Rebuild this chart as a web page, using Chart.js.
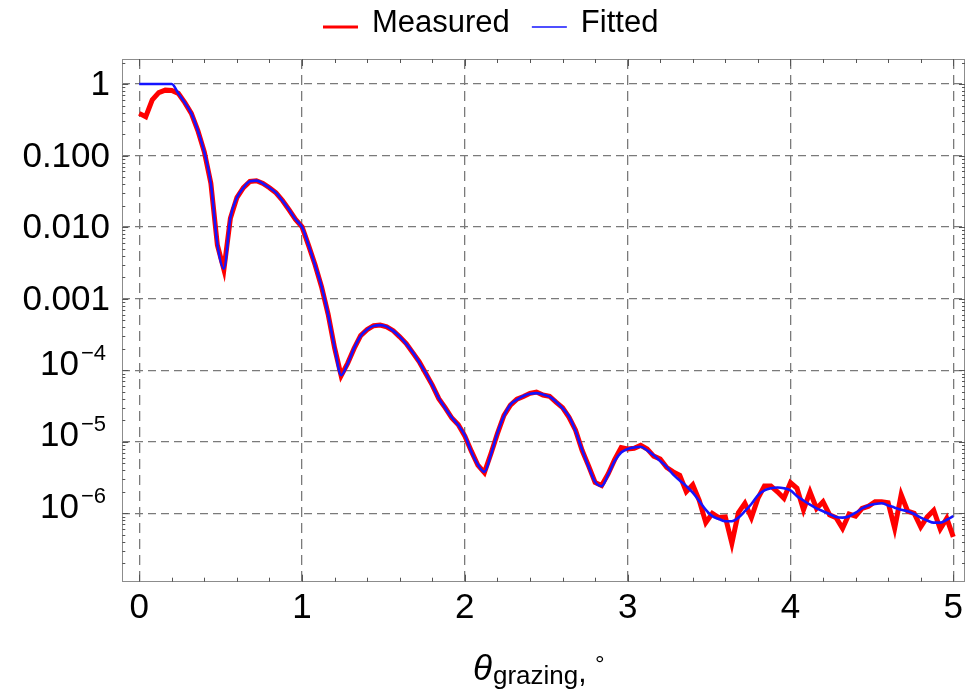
<!DOCTYPE html>
<html>
<head>
<meta charset="utf-8">
<title>Reflectivity</title>
<script src="https://cdn.jsdelivr.net/npm/chart.js@4.4.0/dist/chart.umd.min.js"></script>
<style>
  html, body { margin: 0; padding: 0; background: #fff; }
</style>
</head>
<body>
<canvas id="grafico" width="974" height="689"></canvas>
<script>
const FONT = '"Liberation Sans", Arial, sans-serif';
Chart.defaults.font.family = FONT;

// grazing angle, degrees
const theta = [
  0, 0.04, 0.08, 0.12, 0.16, 0.2, 0.24, 0.28, 0.32, 0.36,
  0.4, 0.44, 0.48, 0.52, 0.56, 0.6, 0.64, 0.68, 0.72, 0.76,
  0.8, 0.84, 0.88, 0.92, 0.96, 1, 1.04, 1.08, 1.12, 1.16,
  1.2, 1.24, 1.28, 1.32, 1.36, 1.4, 1.44, 1.48, 1.52, 1.56,
  1.6, 1.64, 1.68, 1.72, 1.76, 1.8, 1.84, 1.88, 1.92, 1.96,
  2, 2.04, 2.08, 2.12, 2.16, 2.2, 2.24, 2.28, 2.32, 2.36,
  2.4, 2.44, 2.48, 2.52, 2.56, 2.6, 2.64, 2.68, 2.72, 2.76,
  2.8, 2.84, 2.88, 2.92, 2.96, 3, 3.04, 3.08, 3.12, 3.16,
  3.2, 3.24, 3.28, 3.32, 3.36, 3.4, 3.44, 3.48, 3.52, 3.56,
  3.6, 3.64, 3.68, 3.72, 3.76, 3.8, 3.84, 3.88, 3.92, 3.96,
  4, 4.04, 4.08, 4.12, 4.16, 4.2, 4.24, 4.28, 4.32, 4.36,
  4.4, 4.44, 4.48, 4.52, 4.56, 4.6, 4.64, 4.68, 4.72, 4.76,
  4.8, 4.84, 4.88, 4.92, 4.96, 5
];

const measured = [
  0.389, 0.349, 0.603, 0.759, 0.822, 0.813, 0.741, 0.550, 0.389, 0.224,
  0.112, 0.0410, 5.6e-3, 2.55e-3, 0.0133, 0.0259, 0.0356, 0.0436, 0.0446, 0.0409,
  0.0356, 0.0301, 0.0236, 0.0175, 0.0128, 0.0101, 5.55e-3, 2.98e-3, 1.46e-3, 6.1e-4,
  2.05e-4, 8.4e-5, 1.25e-4, 2.02e-4, 3.05e-4, 3.70e-4, 4.20e-4, 4.29e-4, 4.05e-4, 3.57e-4,
  2.93e-4, 2.36e-4, 1.76e-4, 1.31e-4, 9.0e-5, 6.2e-5, 4.0e-5, 2.98e-5, 2.15e-5, 1.73e-5,
  1.20e-5, 7.4e-6, 4.7e-6, 3.7e-6, 6.8e-6, 1.30e-5, 2.33e-5, 3.25e-5, 3.95e-5, 4.30e-5,
  4.75e-5, 4.95e-5, 4.50e-5, 4.33e-5, 3.58e-5, 3.0e-5, 2.20e-5, 1.45e-5, 7.6e-6, 4.6e-6,
  2.7e-6, 2.45e-6, 3.55e-6, 5.62e-6, 8.32e-6, 7.94e-6, 8.13e-6, 8.91e-6, 7.94e-6, 6.31e-6,
  5.75e-6, 4.37e-6, 3.80e-6, 3.39e-6, 2.0e-6, 2.5e-6, 1.51e-6, 7.41e-7, 1.00e-6, 8.71e-7,
  8.91e-7, 3.80e-7, 1.02e-6, 1.38e-6, 8.71e-7, 1.62e-6, 2.40e-6, 2.40e-6, 2.00e-6, 1.62e-6,
  2.69e-6, 2.24e-6, 1.12e-6, 2.00e-6, 1.17e-6, 1.45e-6, 9.55e-7, 8.71e-7, 6.17e-7, 9.77e-7,
  9.12e-7, 1.17e-6, 1.26e-6, 1.45e-6, 1.45e-6, 1.41e-6, 6.17e-7, 1.82e-6, 1.07e-6, 1.00e-6,
  6.46e-7, 8.91e-7, 1.10e-6, 6.03e-7, 8.51e-7, 4.68e-7
];

const fitted = [
  1, 1, 1, 1, 1, 1, 0.741, 0.550, 0.389, 0.224,
  0.111, 0.0407, 5.75e-3, 2.63e-3, 0.0135, 0.0257, 0.0355, 0.0437, 0.0447, 0.0407,
  0.0355, 0.0302, 0.0234, 0.0176, 0.0129, 0.0100, 5.62e-3, 2.95e-3, 1.48e-3, 6.03e-4,
  2.09e-4, 8.51e-5, 1.23e-4, 2.04e-4, 3.02e-4, 3.72e-4, 4.17e-4, 4.27e-4, 4.07e-4, 3.55e-4,
  2.95e-4, 2.34e-4, 1.78e-4, 1.29e-4, 9.12e-5, 6.17e-5, 4.07e-5, 2.95e-5, 2.19e-5, 1.70e-5,
  1.23e-5, 7.24e-6, 4.79e-6, 3.80e-6, 6.61e-6, 1.32e-5, 2.29e-5, 3.31e-5, 3.89e-5, 4.37e-5,
  4.68e-5, 4.79e-5, 4.57e-5, 4.27e-5, 3.63e-5, 2.95e-5, 2.24e-5, 1.41e-5, 7.76e-6, 4.47e-6,
  2.75e-6, 2.40e-6, 3.47e-6, 5.37e-6, 7.08e-6, 7.94e-6, 8.32e-6, 8.51e-6, 7.59e-6, 6.46e-6,
  5.37e-6, 4.47e-6, 3.47e-6, 2.88e-6, 2.40e-6, 1.95e-6, 1.48e-6, 1.12e-6, 9.12e-7, 8.32e-7,
  7.76e-7, 7.76e-7, 8.71e-7, 1.07e-6, 1.35e-6, 1.78e-6, 2.09e-6, 2.24e-6, 2.29e-6, 2.24e-6,
  2.09e-6, 1.74e-6, 1.51e-6, 1.32e-6, 1.17e-6, 1.07e-6, 9.77e-7, 8.91e-7, 8.71e-7, 9.12e-7,
  1.02e-6, 1.17e-6, 1.29e-6, 1.35e-6, 1.38e-6, 1.29e-6, 1.20e-6, 1.12e-6, 1.07e-6, 9.77e-7,
  8.71e-7, 7.94e-7, 7.41e-7, 7.41e-7, 8.13e-7, 9.12e-7
];

const xTickValues = [0, 1, 2, 3, 4, 5];
const yTickValues = [1, 0.1, 0.01, 0.001, 1e-4, 1e-5, 1e-6];
const yTickText = ['1', '0.100', '0.010', '0.001', '10', '10', '10'];
const yTickExp = ['', '', '', '', '\u22124', '\u22125', '\u22126'];

// frame, inward ticks, y labels with exponents, axis title and legend
const marco = {
  id: 'marco',
  afterDraw(chart) {
    const { ctx, chartArea: a, scales: { x, y } } = chart;
    ctx.save();

    ctx.strokeStyle = '#8c8c8c';
    ctx.lineWidth = 1;
    ctx.strokeRect(Math.round(a.left) + 0.5, Math.round(a.top) + 0.5,
      Math.round(a.right - a.left) - 1, Math.round(a.bottom - a.top) - 1);

    ctx.strokeStyle = '#555';
    ctx.beginPath();
    for (let i = 0; i <= 25; i++) {
      const px = Math.round(x.getPixelForValue(i / 5)) + 0.5;
      const len = i % 5 === 0 ? 7 : 4;
      ctx.moveTo(px, a.bottom); ctx.lineTo(px, a.bottom - len);
      ctx.moveTo(px, a.top); ctx.lineTo(px, a.top + len);
    }
    for (let e = -7; e <= 0; e++) {
      for (let m = 1; m <= 9; m++) {
        const v = m * Math.pow(10, e);
        if (v < y.min || v > y.max) continue;
        const py = Math.round(y.getPixelForValue(v)) + 0.5;
        const len = m === 1 ? 6 : 3;
        ctx.moveTo(a.left, py); ctx.lineTo(a.left + len, py);
        ctx.moveTo(a.right, py); ctx.lineTo(a.right - len, py);
      }
    }
    ctx.stroke();

    ctx.fillStyle = '#000';
    ctx.textBaseline = 'alphabetic';
    yTickValues.forEach((v, i) => {
      const py = y.getPixelForValue(v);
      ctx.font = `35px ${FONT}`;
      ctx.textAlign = 'right';
      if (yTickExp[i]) {
        ctx.fillText(yTickText[i], 79, py + 4.5);
        ctx.font = `22px ${FONT}`;
        ctx.textAlign = 'left';
        ctx.fillText(yTickExp[i], 81, py - 10.5);
      } else {
        ctx.fillText(yTickText[i], 110, py + 11);
      }
    });

    // θ_grazing,°
    ctx.textAlign = 'left';
    let tx = 473;
    ctx.font = `italic 35px ${FONT}`;
    ctx.fillText('\u03b8', tx, 680);
    tx += ctx.measureText('\u03b8').width + 1;
    ctx.font = `26px ${FONT}`;
    ctx.fillText('grazing', tx, 684);
    tx += ctx.measureText('grazing').width;
    ctx.font = `30px ${FONT}`;
    ctx.fillText(',', tx, 682);
    tx += ctx.measureText(', ').width;
    ctx.font = `24px ${FONT}`;
    ctx.fillText('\u00b0', tx, 672);

    // legend
    let lx = 323;
    ctx.font = `31px ${FONT}`;
    chart.data.datasets.forEach(ds => {
      ctx.strokeStyle = ds.borderColor;
      ctx.lineWidth = ds.legendWidth;
      ctx.beginPath();
      ctx.moveTo(lx, 27); ctx.lineTo(lx + 35, 27);
      ctx.stroke();
      lx += 35 + 14;
      ctx.fillText(ds.label, lx, 32);
      lx += ctx.measureText(ds.label).width + 22;
    });

    ctx.restore();
  }
};

new Chart(document.getElementById('grafico'), {
  type: 'line',
  data: {
    datasets: [
      {
        label: 'Measured',
        data: theta.map((t, i) => ({ x: t, y: measured[i] })),
        borderColor: '#ff0000',
        borderWidth: 5,
        legendWidth: 3,
        pointRadius: 0,
        tension: 0,
        order: 2
      },
      {
        label: 'Fitted',
        data: theta.map((t, i) => ({ x: t, y: fitted[i] })),
        borderColor: '#1414ff',
        borderWidth: 2.6,
        legendWidth: 1.5,
        pointRadius: 0,
        cubicInterpolationMode: 'monotone',
        order: 1
      }
    ]
  },
  options: {
    responsive: false,
    animation: false,
    devicePixelRatio: 1,
    layout: { padding: { top: 59, right: 9, left: 0, bottom: 0 } },
    plugins: { legend: { display: false }, tooltip: { enabled: false } },
    scales: {
      x: {
        type: 'linear',
        min: -0.104,
        max: 5.072,
        afterBuildTicks: s => { s.ticks = xTickValues.map(v => ({ value: v })); },
        afterFit: s => { s.height = 107.3; },
        grid: { color: '#7a7a7a', lineWidth: 1.3, drawTicks: false },
        border: { display: false, dash: [10, 6] },
        ticks: {
          color: '#000',
          font: { size: 35 },
          padding: 6,
          maxRotation: 0,
          autoSkip: false,
          callback: v => String(v)
        }
      },
      y: {
        type: 'logarithmic',
        min: 1.107e-7,
        max: 2.24,
        afterBuildTicks: s => { s.ticks = yTickValues.map(v => ({ value: v })); },
        afterFit: s => { s.width = 122.3; },
        grid: { color: '#7a7a7a', lineWidth: 1.3, drawTicks: false },
        border: { display: false, dash: [8, 5] },
        ticks: { display: false }
      }
    }
  },
  plugins: [marco]
});
</script>
</body>
</html>
